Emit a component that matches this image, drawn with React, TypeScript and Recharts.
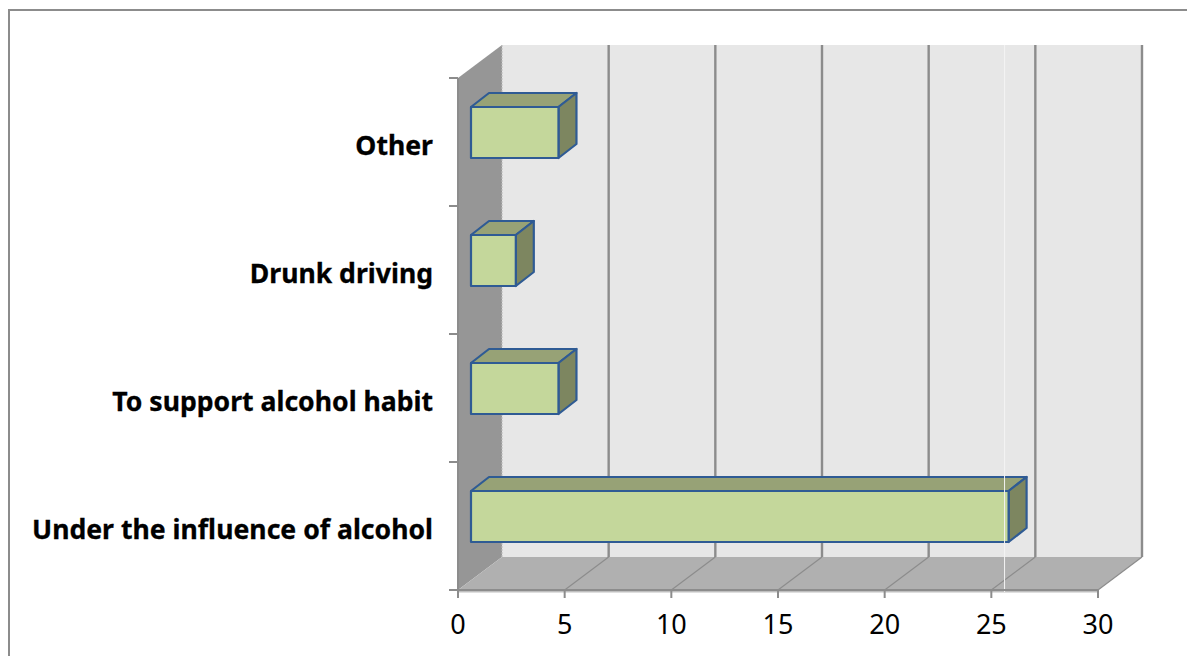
import React from 'react';
import { BarChart, Bar, XAxis, YAxis, ReferenceArea, ReferenceLine } from 'recharts';

const categories = ['Other', 'Drunk driving', 'To support alcohol habit', 'Under the influence of alcohol'];
const values = [4.1, 2.1, 4.1, 25.2];
const xTicks = [0, 5, 10, 15, 20, 25, 30];
const artefactValue = 25.62;

const data = categories.map((name, i) => ({ name, value: values[i] }));

const DX = 44;
const DY = 33;
const GRID = '#8c8c8c';

function Walls(props: any) {
  const { x, y, width, height } = props;
  const r = x + width;
  const b = y + height;
  const bands = categories.length;
  const marks = Array.from({ length: bands + 1 }, (_, i) => y + (height * i) / bands);
  return (
    <g>
      <polygon points={`${x + DX},${y - DY} ${r + DX},${y - DY} ${r + DX},${b - DY} ${x + DX},${b - DY}`} fill="#e7e7e7" />
      <polygon points={`${x},${y} ${x + DX},${y - DY} ${x + DX},${b - DY} ${x},${b}`} fill="#969696" />
      <polygon points={`${x},${b} ${x + DX},${b - DY} ${r + DX},${b - DY} ${r},${b}`} fill="#b0b0b0" />
      <line x1={x + DX} y1={y - DY} x2={x + DX} y2={b - DY} stroke="#bdbdbd" strokeWidth={1} strokeDasharray="2 1" />
      <line x1={x} y1={b + 1.5} x2={r} y2={b + 1.5} stroke="#bfbfbf" strokeWidth={2} />
      {marks.map((m) => (
        <line key={m} x1={x - 9} y1={m} x2={x} y2={m} stroke={GRID} strokeWidth={2} />
      ))}
      <line x1={x} y1={y} x2={x} y2={b} stroke={GRID} strokeWidth={2} />
    </g>
  );
}

function GridLine(props: any) {
  const { x, y, width, height } = props;
  const gx = x + width;
  const top = y;
  const bot = y + height;
  return (
    <g>
      <line x1={gx} y1={bot} x2={gx + DX} y2={bot - DY} stroke={GRID} strokeWidth={1.2} />
      <line x1={gx + DX} y1={top - DY} x2={gx + DX} y2={bot - DY} stroke={GRID} strokeWidth={2.4} />
    </g>
  );
}

function Artefact(props: any) {
  const { x1, y1, y2 } = props;
  const top = Math.min(y1, y2);
  const bot = Math.max(y1, y2);
  return <line x1={x1} y1={top - DY} x2={x1} y2={bot + 2} stroke="#f4f4f4" strokeWidth={1} />;
}

function Box(props: any) {
  const { x, y, width, height } = props;
  const fx = x + 13;
  const fy = y - 10;
  const r = fx + width;
  const b = fy + height;
  const dx = 18;
  const dy = 14;
  const edge = { stroke: '#2f5b94', strokeWidth: 2.2, strokeLinejoin: 'round' as const };
  return (
    <g>
      <polygon points={`${fx},${fy} ${fx + dx},${fy - dy} ${r + dx},${fy - dy} ${r},${fy}`} fill="#97a276" {...edge} />
      <polygon points={`${r},${fy} ${r + dx},${fy - dy} ${r + dx},${b - dy} ${r},${b}`} fill="#7d8660" {...edge} />
      <rect x={fx} y={fy} width={width} height={height} fill="#c4d79b" {...edge} />
    </g>
  );
}

export default function App() {
  return (
    <div style={{ position: 'absolute', left: 0, top: 0, width: 1187, height: 656, overflow: 'hidden' }}>
      <div style={{ position: 'absolute', left: 8, top: 9, width: 1179, height: 2, background: '#8c8c8c' }} />
      <div style={{ position: 'absolute', left: 8, top: 9, width: 2, height: 647, background: '#8c8c8c' }} />
      <div style={{ position: 'absolute', left: 0, top: 0 }}>
        <BarChart
          width={1187}
          height={656}
          data={data}
          layout="vertical"
          margin={{ top: 78, right: 89, bottom: 0, left: 0 }}
          barSize={51}
        >
          <XAxis
            type="number"
            domain={[0, 30]}
            ticks={xTicks}
            interval={0}
            height={66}
            axisLine={{ stroke: GRID, strokeWidth: 2 }}
            tickLine={{ stroke: GRID, strokeWidth: 2 }}
            tickSize={8}
            tickMargin={17}
            tick={{ fontSize: 27, fill: '#000000', fontFamily: '"Noto Sans"' }}
          />
          <YAxis
            type="category"
            dataKey="name"
            width={458}
            axisLine={false}
            tickLine={false}
            tickMargin={19}
            interval={0}
            tick={{ fontSize: 26.6, fontWeight: 700, fill: '#000000', stroke: '#000000', strokeWidth: 0.3, fontFamily: '"Noto Sans"', dy: 4 }}
          />
          <ReferenceArea x1={0} x2={30} ifOverflow="visible" shape={<Walls />} />
          {xTicks.slice(1).map((t, i) => (
            <ReferenceArea key={t} x1={xTicks[i]} x2={t} ifOverflow="visible" shape={<GridLine />} />
          ))}
          <Bar dataKey="value" isAnimationActive={false} shape={<Box />} />
          <ReferenceLine x={artefactValue} ifOverflow="visible" shape={<Artefact />} />
        </BarChart>
      </div>
    </div>
  );
}
